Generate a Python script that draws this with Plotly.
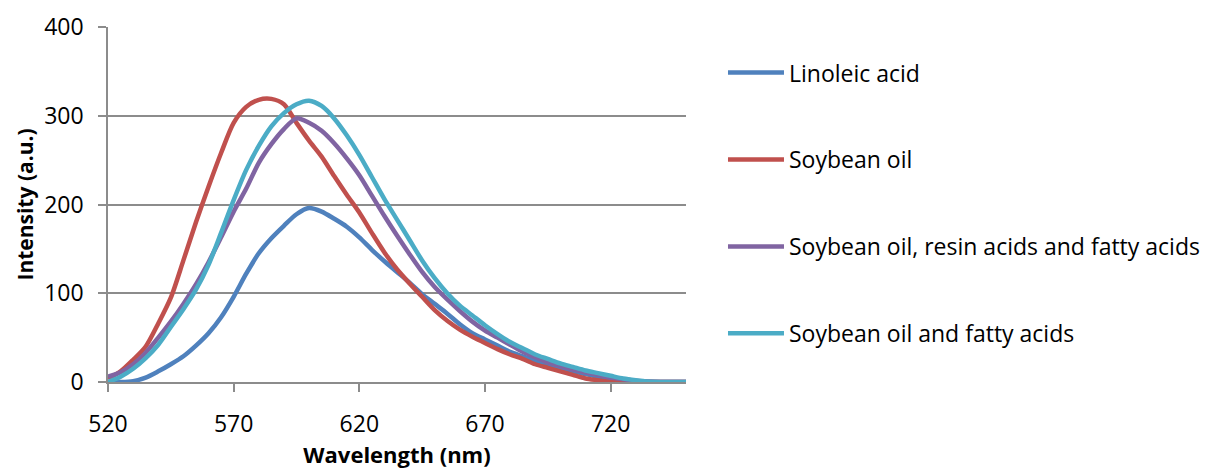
import plotly.graph_objects as go

wavelength = list(range(520, 755, 5))

linoleic_acid = [0, 0, 1, 5, 12, 20, 29, 41, 55, 73, 96, 122, 145, 162, 176, 189, 196, 192, 184, 175,
                 163, 149, 136, 124, 112, 99, 88, 77, 65, 55, 48, 41, 34, 29, 24, 20, 16, 12, 9, 6,
                 4, 2, 1, 0, 0, 0, 0]
soybean_oil = [4, 12, 25, 40, 66, 95, 137, 180, 220, 258, 292, 310, 318, 319, 313, 292, 272, 254, 232, 211,
               191, 168, 146, 127, 111, 96, 81, 69, 59, 51, 44, 37, 31, 26, 20, 16, 12, 8, 4, 2,
               0, 0, 0, 0, 0, 0, 0]
soybean_resin_fatty = [6, 11, 20, 33, 50, 68, 88, 110, 135, 163, 192, 218, 247, 268, 285, 297, 292, 283, 269, 252,
                       233, 210, 187, 165, 144, 124, 107, 93, 80, 68, 58, 50, 42, 34, 28, 22, 18, 14, 11, 8,
                       5, 3, 1.5, 0.5, 0, 0, 0]
soybean_fatty = [0, 6, 15, 27, 42, 62, 82, 104, 132, 168, 205, 239, 266, 288, 303, 313, 317, 311, 297, 278,
                 256, 231, 206, 183, 160, 137, 117, 100, 86, 75, 64, 54, 45, 38, 31, 26, 21, 17, 13, 10,
                 7, 4, 2, 0.5, 0, 0, 0]

series_names = ["Linoleic acid", "Soybean oil", "Soybean oil, resin acids and fatty acids",
                "Soybean oil and fatty acids"]
series_values = [linoleic_acid, soybean_oil, soybean_resin_fatty, soybean_fatty]
colors = ["#4F81BD", "#C0504D", "#8064A2", "#4BACC6"]

x_ticks = [520, 570, 620, 670, 720]
y_ticks = [0, 100, 200, 300, 400]

FONT = "Open Sans"
fig = go.Figure()
for name, vals, col in zip(series_names, series_values, colors):
    fig.add_trace(go.Scatter(
        x=wavelength, y=vals, name=name, mode="lines", legendgroup=name,
        line=dict(color=col, width=4.5, shape="spline", smoothing=0.8),
    ))

grid = "#8C8C8C"
fig.update_layout(
    width=1206, height=470, autosize=False,
    margin=dict(l=108, r=520, t=27, b=88, autoexpand=False),
    paper_bgcolor="white", plot_bgcolor="white",
    font=dict(family=FONT, size=23, color="black"),
    showlegend=True,
    legend=dict(x=1.064, y=0.932, xanchor="left", yanchor="top", tracegroupgap=54,
                font=dict(family=FONT, size=23, color="black"), itemwidth=56,
                bgcolor="rgba(0,0,0,0)"),
    xaxis=dict(range=[520, 750], tickvals=x_ticks, ticktext=[str(v) for v in x_ticks],
               showgrid=False, zeroline=False, showline=True, linecolor=grid, linewidth=1.5,
               ticks="outside", ticklen=8, tickcolor=grid, tickwidth=1.5,
               ticklabelstandoff=13,
               title=dict(text="<b>Wavelength (nm)</b>", font=dict(family=FONT, size=22), standoff=9)),
    yaxis=dict(range=[0, 400], tickvals=y_ticks, ticktext=[str(v) for v in y_ticks],
               showgrid=True, gridcolor=grid, gridwidth=1.5, zeroline=False,
               showline=True, linecolor=grid, linewidth=1.5,
               ticks="outside", ticklen=8, tickcolor=grid, tickwidth=1.5,
               ticklabelstandoff=10,
               title=dict(text="<b>Intensity (a.u.)</b>", font=dict(family=FONT, size=21), standoff=5)),
)

fig.write_html("out.html")
